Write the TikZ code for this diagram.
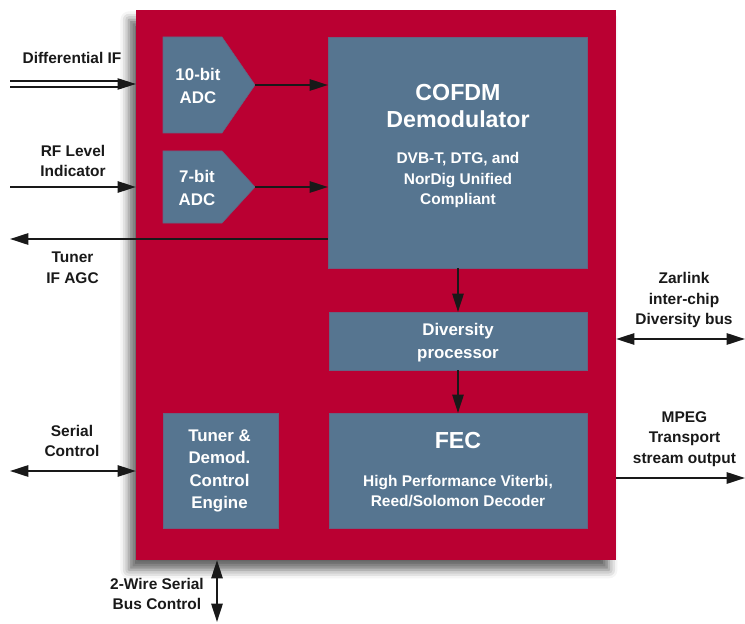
\documentclass[tikz,border=0pt]{standalone}
\usepackage{fontspec}
\setmainfont{Liberation Sans}
\usetikzlibrary{arrows.meta, shadows.blur}

\definecolor{chipred}{RGB}{186,0,50}
\definecolor{blockblue}{RGB}{86,117,144}
\definecolor{ink}{RGB}{25,25,25}

\tikzset{
  block/.style={fill=blockblue, draw=blockblue!85!chipred, line width=0.4pt, outer sep=0pt},
  intext/.style={text=white, align=center, font=\bfseries\fontsize{12}{16}\selectfont},
  subtext/.style={text=white, align=center, font=\bfseries\fontsize{11}{14.6}\selectfont},
  titletext/.style={text=white, align=center, font=\bfseries\fontsize{16.5}{18.6}\selectfont},
  pinlabel/.style={text=ink, align=center, font=\bfseries\fontsize{11}{14.6}\selectfont},
  sig/.style={draw=ink, line width=1.4pt, -{Triangle[length=13pt,width=8pt]}},
  bisig/.style={draw=ink, line width=1.4pt, {Triangle[length=13pt,width=8pt]}-{Triangle[length=13pt,width=8pt]}},
}

\begin{document}
\begin{tikzpicture}[x=0.025cm,y=-0.025cm]
\useasboundingbox (0,0) rectangle (745,624);

\path (376,285) node[fill=chipred, outer sep=0pt, minimum width=12cm, minimum height=13.75cm,
  blur shadow={shadow xshift=-5pt, shadow yshift=-7pt, shadow blur radius=6pt, shadow opacity=60}] (frame) {};

\path (457.5,152.5) node[block, minimum width=6.475cm, minimum height=5.775cm] (cofdm) {};
\path (458,341) node[block, minimum width=6.45cm, minimum height=1.45cm] (divp) {};
\path (458,470.5) node[block, minimum width=6.45cm, minimum height=2.875cm] (fec) {};
\path (220.5,470.5) node[block, minimum width=2.875cm, minimum height=2.875cm] (tde) {};

\path[block] (163,37) -- (222,37) -- (255,85) -- (222,133) -- (163,133) -- cycle;
\path[block] (163,151) -- (222,151) -- (255,187) -- (222,223) -- (163,223) -- cycle;
\coordinate (adcAtip) at (255,85);
\coordinate (adcBtip) at (255,187);

\path (198,86) node[intext] (adcA) {10-bit\\ADC};
\path (197,188) node[intext] (adcB) {7-bit\\ADC};
\path (458,106) node[titletext] (cofdmT) {COFDM\\Demodulator};
\path (458,180) node[subtext] (cofdmS) {DVB-T, DTG, and\\NorDig Unified\\Compliant};
\path (458,341) node[intext, text depth=0pt] (divpT) {Diversity\\processor};
\path (458,441) node[titletext] (fecT) {FEC};
\path (458,491) node[subtext] (fecS) {High Performance Viterbi,\\Reed/Solomon Decoder};
\path (219.5,471) node[intext] (tdeT) {Tuner \&\\Demod.\\Control\\Engine};

\coordinate (difL) at (10,84);
\coordinate (rfL) at (10,187);
\coordinate (agcL) at (10,239);
\coordinate (serL) at (10,471);
\coordinate (zbR) at (745,339);
\coordinate (mpR) at (745,478);
\coordinate (busB) at (217,622);

\path[draw][ink, line width=1.4pt, double, double distance=2.6pt, shorten >=11pt] (difL) -- (frame.west |- difL);
\path[draw][white, line width=1pt, -{Triangle[length=13pt,width=8pt,color=ink]}] (difL) -- (frame.west |- difL);
\path[draw][sig] (rfL) -- (frame.west |- rfL);
\path[draw][sig] (adcAtip) -- (cofdm.west |- adcAtip);
\path[draw][sig] (adcBtip) -- (cofdm.west |- adcBtip);
\path[draw][sig] (cofdm.west |- agcL) -- (agcL);
\path[draw][sig] (cofdm.south -| divp.north) -- (divp.north);
\path[draw][sig] (divp.south) -- (fec.north);
\path[draw][bisig] (serL) -- (frame.west |- serL);
\path[draw][bisig] (frame.east |- zbR) -- (zbR);
\path[draw][sig] (frame.east |- mpR) -- (mpR);
\path[draw][bisig] (frame.south -| busB) -- (busB);

\path (72,58) node[pinlabel] (difT) {Differential IF};
\path (73,161) node[pinlabel] (rfT) {RF Level\\Indicator};
\path (72.5,268) node[pinlabel] (agcT) {Tuner\\IF AGC};
\path (72,441) node[pinlabel] (serT) {Serial\\Control};
\path (157,594) node[pinlabel] (busT) {2-Wire Serial\\Bus Control};
\path (684,300) node[pinlabel] (zbT) {Zarlink\\inter-chip\\Diversity bus};
\path (684.5,439) node[pinlabel] (mpT) {MPEG\\Transport\\stream output};
\end{tikzpicture}
\end{document}
